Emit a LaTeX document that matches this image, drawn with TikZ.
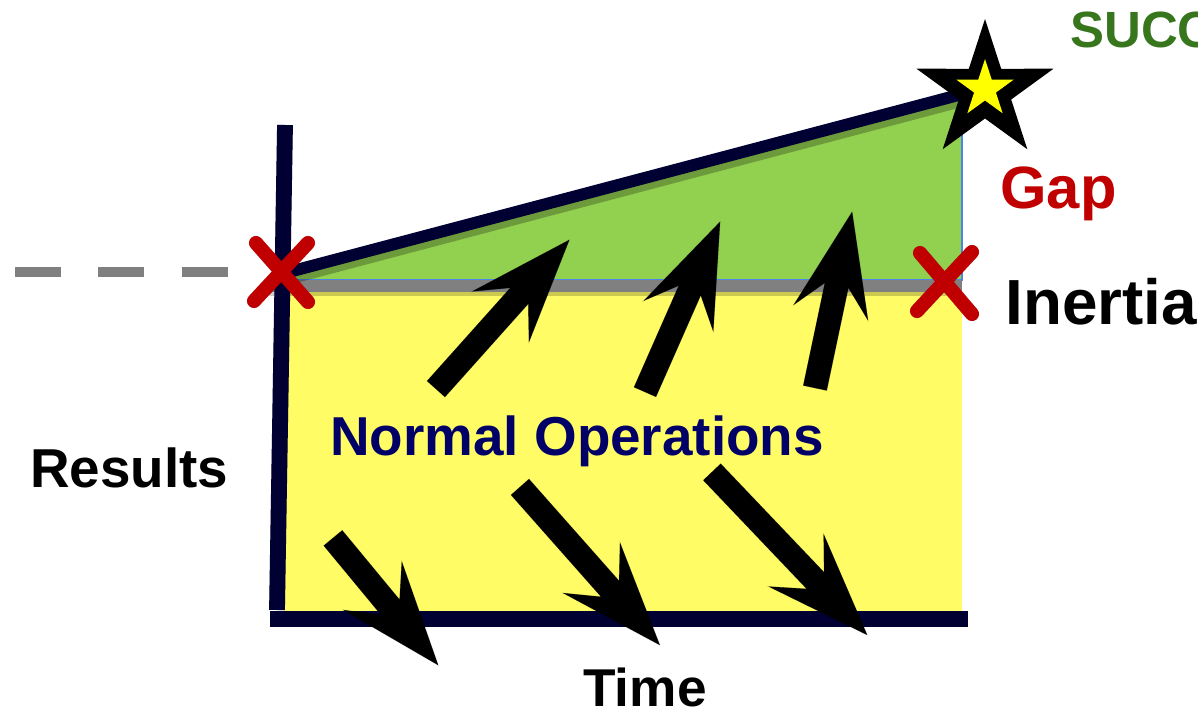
\documentclass[tikz,border=0pt]{standalone}
\usepackage{fontspec}
\setmainfont{Liberation Sans}
\definecolor{axisnavy}{RGB}{0,0,51}
\definecolor{fillyellow}{RGB}{255,252,102}
\definecolor{fillgreen}{RGB}{146,208,80}
\definecolor{edgeblue}{RGB}{74,134,232}
\definecolor{bargray}{RGB}{128,128,128}
\definecolor{crossred}{RGB}{192,0,0}
\definecolor{starblack}{RGB}{0,0,0}
\definecolor{staryellow}{RGB}{255,255,0}
\definecolor{successgreen}{RGB}{56,118,29}
\definecolor{opsnavy}{RGB}{0,0,102}
\newcommand\labelfont[1]{\fontsize{#1pt}{#1pt}\selectfont\bfseries}
\tikzset{
  axisline/.style={draw=axisnavy, line width=9pt},
  slopeline/.style={draw=axisnavy, line width=6.8pt},
  crossline/.style={draw=crossred, line width=8pt, line cap=round},
  shadowed/.style={draw=black, draw opacity=0.22, fill=black, fill opacity=0.22},
  lbl/.style={inner sep=0pt, anchor=base west},
  pics/bigarrow/.style={code={
    \path[pic actions] (0,12) -- ({#1-75},12) -- ({#1-103},38) -- (#1,0)
      -- ({#1-103},-38) -- ({#1-75},-12) -- (0,-12) -- cycle;}}
}
% the six heavy arrows, drawn with the given style
\newcommand\heavyarrows[1]{
  \pic[#1, rotate=48.2]  at (A1) {bigarrow=200};
  \pic[#1, rotate=66.2]  at (A2) {bigarrow=186};
  \pic[#1, rotate=78.1]  at (A3) {bigarrow=180};
  \pic[#1, rotate=-50.4] at (A4) {bigarrow=165};
  \pic[#1, rotate=-48.5] at (A5) {bigarrow=211};
  \pic[#1, rotate=-46.4] at (A6) {bigarrow=225};
}
% the two red crosses
\newcommand\crosses[1]{
  \draw[#1] ([shift={(-26,-29)}]X1) -- ([shift={(26,30)}]X1);
  \draw[#1] ([shift={(26,-29)}]X1) -- ([shift={(-28,29)}]X1);
  \draw[#1] ([shift={(-25,-30)}]X2) -- ([shift={(27,31)}]X2);
  \draw[#1] ([shift={(27,-31)}]X2) -- ([shift={(-28,28)}]X2);
}
\begin{document}
\begin{tikzpicture}[x=0.02cm, y=-0.02cm]
\useasboundingbox (0,0) rectangle (1198,713);
\clip (0,0) rectangle (1198,713);

% anchor points
\coordinate (O) at (277,610);
\coordinate (Ytop) at (285,125);
\coordinate (Xl) at (270,619);
\coordinate (Xr) at (968,619);
\coordinate (P0) at (285,273);
\coordinate (P1) at (970,92);
\coordinate (X1) at (282,272);
\coordinate (X2) at (945,283);
\coordinate (S) at (985,91);
\coordinate (A1) at (436,389);
\coordinate (A2) at (645,392);
\coordinate (A3) at (815,388);
\coordinate (A4) at (333,538);
\coordinate (A5) at (520,487);
\coordinate (A6) at (712,472);

% regions
\fill[fillyellow] (285,292) rectangle (962,612);
\fill[fillgreen] (285,278) -- (962,100) -- (962,280) -- (285,280) -- cycle;
\draw[edgeblue, line width=0.8pt] (962,125) -- (962,280) -- (285,280);

% dashed reference level and inertia bar
\draw[bargray, line width=5.7pt, dash pattern=on 26pt off 21.5pt] (15,272) -- (230,272);
\draw[black, opacity=0.2, line width=6.8pt] (266,290) -- (962,290);
\draw[bargray, line width=6.8pt] (266,286) -- (962,286);

% sloped success line with its shadow
\draw[slopeline, draw=black, draw opacity=0.25] ([shift={(3,6)}]P0) -- ([shift={(3,6)}]P1);
\draw[slopeline] (P0) -- (P1);

% axes with shadow
\begin{scope}[shift={(4,5)}]
  \draw[axisline, draw=black, draw opacity=0.22] (Ytop) -- (O);
  \draw[axisline, draw=black, draw opacity=0.22] (Xl) -- (Xr);
\end{scope}
\draw[axisline] (Ytop) -- (O);
\draw[axisline] (Xl) -- (Xr);

% heavy arrows
\begin{scope}[shift={(4,5)}]
  \heavyarrows{shadowed}
\end{scope}
\heavyarrows{fill=black}

% red crosses
\begin{scope}[shift={(4,5)}]
  \crosses{crossline, draw=black, draw opacity=0.22}
\end{scope}
\crosses{crossline}

% star
\fill[starblack] ([shift={(-90:72)}]S)
  -- ([shift={(-54:27.5)}]S) -- ([shift={(-18:72)}]S)
  -- ([shift={(18:27.5)}]S) -- ([shift={(54:72)}]S)
  -- ([shift={(90:27.5)}]S) -- ([shift={(126:72)}]S)
  -- ([shift={(162:27.5)}]S) -- ([shift={(198:72)}]S)
  -- ([shift={(234:27.5)}]S) -- cycle;
\coordinate (Si) at (985,89);
\fill[staryellow] ([shift={(-90:30)}]Si)
  -- ([shift={(-54:11.5)}]Si) -- ([shift={(-18:30)}]Si)
  -- ([shift={(18:11.5)}]Si) -- ([shift={(54:30)}]Si)
  -- ([shift={(90:11.5)}]Si) -- ([shift={(126:30)}]Si)
  -- ([shift={(162:11.5)}]Si) -- ([shift={(198:30)}]Si)
  -- ([shift={(234:11.5)}]Si) -- cycle;

% labels
\node[lbl, text=successgreen] (success) at (1070,48) {\labelfont{29}SUCCESS};
\node[lbl, text=crossred] (gap) at (1000,209) {\labelfont{34}Gap};
\node[lbl, text=black] (inertia) at (1005,324) {\labelfont{36.3}Inertia};
\node[lbl, text=black] (results) at (30,487) {\labelfont{31.2}Results};
\node[lbl, text=opsnavy] (ops) at (330,455) {\labelfont{31.2}Normal Operations};
\node[lbl, text=black] (time) at (583,706) {\labelfont{30.3}Time};
\end{tikzpicture}
\end{document}
